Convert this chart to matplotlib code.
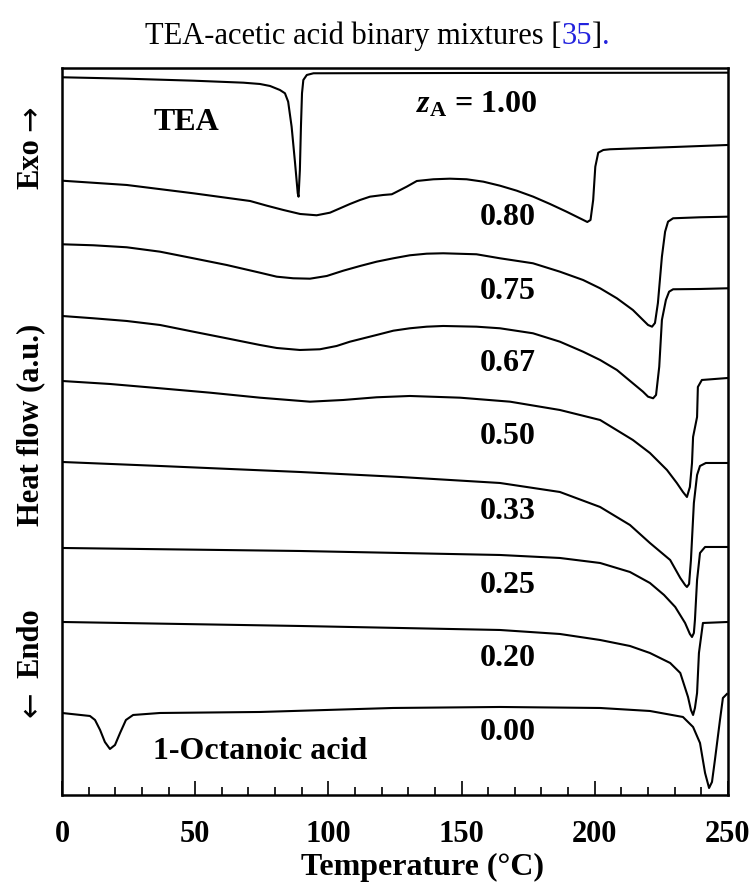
import matplotlib.pyplot as plt
from matplotlib.ticker import MultipleLocator

# temperature (deg C) / heat flow (a.u., offset stacked)
t_100 = [0, 24.3, 49.3, 68.1, 74.3, 78.1, 81.8, 83.7, 84.9, 86.2, 87.5, 88.5, 88.8, 89.3, 89.7, 90.1, 90.6,
         91.9, 94.4, 150, 250]
hf_100 = [717.7, 716.3, 714.3, 712.3, 711, 709, 705, 701.7, 693.3, 668.3, 631.7, 601.7, 598.3, 625, 668.3, 701.7, 715,
          720, 721.7, 722, 722.3]

t_080 = [0, 24.3, 49.3, 70.6, 76.9, 83.1, 89.4, 95.6, 100.6, 104.4, 108.1, 111.9, 115.6, 120.6, 123.8, 125.0,
         129.4, 133.2, 139.4, 145.6, 151.9, 158.2, 164.4, 170.7, 176.9, 183.2, 189.4, 195.7, 197.2, 198.4,
         199.4, 200.2, 201.3, 203.2, 205.7, 230, 250]
hf_080 = [614.3, 610, 601.7, 594, 589.3, 585, 581, 579.7, 582.3, 586.7, 591, 595, 598.3, 600, 600.7, 602.3,
          608.3, 614, 615.7, 616.3, 615.7, 613.3, 609.3, 604.3, 598.3, 591, 583.3, 575, 573, 575,
          595, 628.3, 642.3, 645, 645.7, 648, 650]

t_075 = [0, 11.8, 24.3, 36.8, 49.3, 61.8, 74.3, 80.6, 86.8, 93.1, 99.4, 105.6, 111.9, 118.1, 124.4, 130.6,
         136.9, 143.1, 155.6, 164.4, 176.8, 186.9, 195.6, 202.0, 208.3, 214.3, 218.1, 220.0, 221.5, 222.6,
         223.7, 225.2, 226.4, 227.5, 229.4, 239.5, 250]
hf_075 = [550.7, 549.7, 547.7, 543.3, 536.7, 530, 522.3, 518.3, 516.7, 516.3, 519, 524.3, 529, 533.3, 536.7, 539.7,
          541.3, 541.7, 540.7, 536.7, 531.7, 523.3, 515, 506.7, 496.7, 485, 475, 470, 468.3, 472,
          492, 538.3, 563.3, 573.3, 576.7, 577.7, 578.3]

t_067 = [0, 11.8, 24.3, 36.8, 49.3, 61.8, 74.3, 80.6, 89.3, 96.8, 103.1, 108.1, 118.1, 124.4, 130.6, 136.9,
         143.1, 155.6, 164.4, 176.8, 186.9, 195.6, 202.0, 208.3, 214.3, 218.1, 220.0, 221.9, 223.0, 224.2,
         225.2, 226.7, 227.9, 229.4, 239.5, 250]
hf_067 = [479, 476.7, 474, 470, 463.3, 456.7, 450, 447, 445, 445.7, 449, 453.3, 460, 464.3, 466.7, 468.3,
          469, 468.3, 466.7, 461.7, 453.3, 443.3, 435, 425, 411.7, 403.3, 398.3, 396.7, 400, 428.3,
          475, 495, 503.3, 505.7, 506, 506.7]

t_050 = [0, 18.0, 36.8, 55.6, 74.3, 93.1, 105.6, 118.1, 130.6, 149.4, 168.2, 186.9, 202.0, 214.3, 220.7,
         227.1, 230.8, 233.1, 234.6, 235.7, 236.5, 236.9, 238.4, 238.7, 240.2, 250]
hf_050 = [414, 411, 406.7, 402.3, 397.3, 393.3, 395, 397.7, 399, 397.3, 393.3, 385, 375, 355, 342,
          325, 312, 303, 298, 308, 332, 358, 378, 408, 415, 417]

t_033 = [0, 36.8, 89.3, 126.9, 164.4, 186.9, 202.0, 213.2, 220.7, 228.3, 232.1, 233.9, 234.6, 235.4,
         236.1, 237.2, 238.4, 239.5, 241.7, 250]
hf_033 = [333, 329, 323, 318, 312, 303, 288, 270, 252, 235, 217, 210, 208, 211,
          235, 292, 320, 329, 332, 332]

t_025 = [0, 89.3, 164.4, 186.9, 202.0, 213.2, 220.7, 226.0, 230.2, 233.9, 235.7, 236.5, 237.2, 237.6, 238.4,
         239.5, 241.4, 250]
hf_025 = [247, 244, 240, 237, 232, 223, 212, 200, 188, 172, 161, 158, 162, 175, 215,
          242, 248, 248]

t_020 = [0, 89.3, 164.4, 186.9, 202.0, 213.2, 220.7, 228.3, 232.1, 235.0, 236.1, 236.9, 237.6, 238.4,
         239.1, 240.6, 250]
hf_020 = [173, 169, 165, 161, 155, 149, 142, 132, 122, 98, 85, 80, 87, 102,
          142, 172, 173]

t_000 = [0, 10.5, 12.4, 14.3, 16.1, 18.0, 19.9, 21.8, 24.0, 26.7, 36.8, 74.3, 124.2, 164.4, 202.0,
         220.7, 233.1, 236.9, 239.5, 241.4, 242.9, 244.0, 245.1, 247.0, 248.1, 249.6]
hf_000 = [82, 79, 75, 65, 53, 46, 50, 62, 75, 80, 82, 83, 87, 88, 87,
          84, 78, 68, 52, 22, 7, 13, 35, 75, 97, 101]

curves = [(t_100, hf_100), (t_080, hf_080), (t_075, hf_075), (t_067, hf_067), (t_050, hf_050),
          (t_033, hf_033), (t_025, hf_025), (t_020, hf_020), (t_000, hf_000)]

z_labels = ['0.80', '0.75', '0.67', '0.50', '0.33', '0.25', '0.20', '0.00']
z_label_y = [577, 503, 431, 358, 283, 209, 136, 62]


def plot_dsc():
    plt.rcParams['font.family'] = ['Liberation Serif', 'DejaVu Serif']
    plt.rcParams['mathtext.fontset'] = 'custom'
    plt.rcParams['mathtext.rm'] = 'Liberation Serif:bold'
    plt.rcParams['mathtext.it'] = 'Liberation Serif:italic:bold'

    fig = plt.figure(figsize=(7.55, 8.84), dpi=100)
    ax = fig.add_axes([0.0821, 0.1007, 0.8821, 0.8224])

    for t, hf in curves:
        ax.plot(t, hf, color='black', lw=1.5)

    ax.set_xlim(0, 250)
    ax.set_ylim(0, 727)
    ax.set_yticks([])
    ax.xaxis.set_major_locator(MultipleLocator(50))
    ax.xaxis.set_minor_locator(MultipleLocator(10))
    ax.tick_params(axis='x', which='both', direction='in', width=1.2, pad=18)
    ax.tick_params(axis='x', which='major', length=10, labelsize=22)
    ax.tick_params(axis='x', which='minor', length=6)
    for lab in ax.get_xticklabels():
        lab.set_fontweight('bold')
    for sp in ax.spines.values():
        sp.set_linewidth(1.8)
    fig.text(0.560, 0.0102, 'Temperature (°C)', fontsize=23, fontweight='bold', ha='center', va='baseline')

    ax.text(46.9, 672, 'TEA', fontsize=23, fontweight='bold', ha='center', va='center')
    ax.text(155.8, 690, r'$z_\mathrm{A}$ = 1.00', fontsize=23, fontweight='bold', ha='center', va='center')
    for s, y in zip(z_labels, z_label_y):
        ax.text(167.4, y, s, fontsize=23, fontweight='bold', ha='center', va='center')
    ax.text(74.3, 43, '1-Octanoic acid', fontsize=23, fontweight='bold', ha='center', va='center')

    # y label in parts, arrows drawn with DejaVu (longer glyph)
    kw = dict(rotation=90, fontsize=22, ha='center', va='center')
    fig.text(0.041, 0.815, 'Exo', fontweight='bold', **kw)
    fig.text(0.041, 0.866, '\u2192', family='DejaVu Sans', **kw)
    fig.text(0.041, 0.519, 'Heat flow (a.u.)', fontweight='bold', **kw)
    fig.text(0.041, 0.272, 'Endo', fontweight='bold', **kw)
    fig.text(0.041, 0.203, '\u2190', family='DejaVu Sans', **kw)

    # caption with a blue reference number
    pieces = [('TEA-acetic acid binary mixtures [', 'black'), ('35', '#2222dd'), (']', 'black'), ('.', '#2222dd')]
    texts = [fig.text(0, 0.950, s, color=c, fontsize=22, va='baseline') for s, c in pieces]
    fig.canvas.draw()
    r = fig.canvas.get_renderer()
    widths = [t.get_window_extent(r).width / fig.bbox.width for t in texts]
    x = 0.5 - sum(widths) / 2
    for t, w in zip(texts, widths):
        t.set_x(x)
        x += w

    plt.savefig('out.png', dpi=100)


if __name__ == '__main__':
    plot_dsc()
